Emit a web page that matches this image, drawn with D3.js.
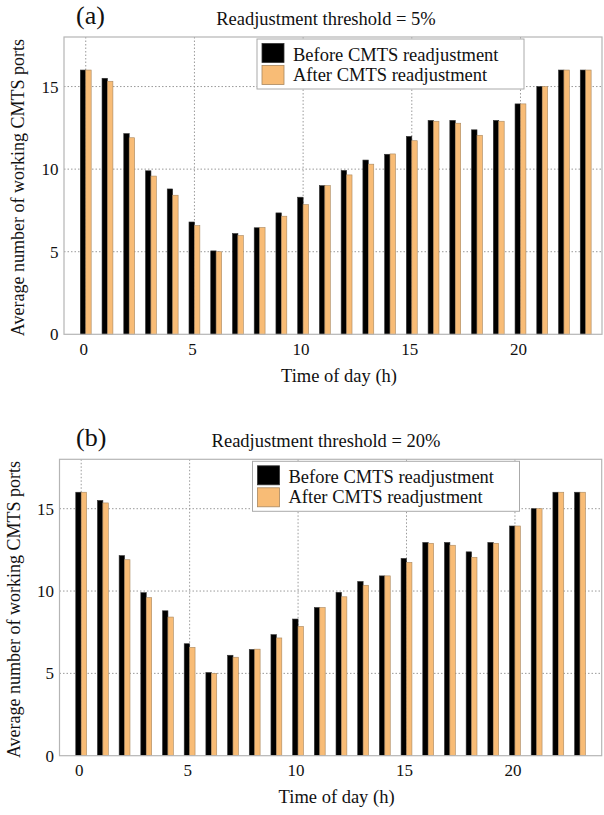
<!DOCTYPE html>
<html>
<head>
<meta charset="utf-8">
<script src="https://cdn.jsdelivr.net/npm/d3@7"></script>
<style>
  body { margin: 0; background: #fff; }
  text { font-family: "Liberation Serif", "Times New Roman", serif; fill: #111; }
</style>
</head>
<body>
<div id="chart"></div>
<script>
// hours of the day
var hours = d3.range(0, 24)

// panel (a), threshold 5%
var beforeA = [16, 15.5, 12.15, 9.9, 8.8, 6.8, 5.05, 6.1, 6.45, 7.35, 8.3, 9.0,
               9.92, 10.55, 10.9, 11.98, 12.95, 12.95, 12.38, 12.95, 13.95, 15, 16, 16]
var afterA  = [16, 15.32, 11.9, 9.58, 8.42, 6.58, 5.0, 5.98, 6.47, 7.15, 7.85, 9.0,
               9.65, 10.3, 10.92, 11.72, 12.9, 12.78, 12.05, 12.9, 13.95, 15, 16, 16]
// panel (b), threshold 20%
var beforeB = [16, 15.5, 12.15, 9.9, 8.8, 6.8, 5.05, 6.1, 6.45, 7.35, 8.3, 9.0,
               9.92, 10.58, 10.92, 11.98, 12.95, 12.95, 12.38, 12.95, 13.95, 15, 16, 16]
var afterB  = [16, 15.35, 11.9, 9.6, 8.42, 6.58, 5.0, 5.98, 6.47, 7.15, 7.85, 9.0,
               9.65, 10.35, 10.92, 11.74, 12.9, 12.78, 12.05, 12.9, 13.95, 15, 16, 16]

var xTicks = [0, 5, 10, 15, 20]
var yTicks = [0, 5, 10, 15]
var seriesNames = ["Before CMTS readjustment", "After CMTS readjustment"]
var colors = ["#000000", "#f8bc76"]

var svg = d3.select("#chart").append("svg")
  .attr("width", 604)
  .attr("height", 815)

function panel(opt)
{
  var g = svg.append("g")
  var x = d3.scaleLinear().domain(opt.xDomain).range([opt.left, opt.right])
  var y = d3.scaleLinear().domain([0, 18]).range([opt.bottom, opt.top])

  // grid lines
  g.selectAll(".vgrid")
    .data(xTicks)
    .enter()
    .append("line")
      .attr("x1", function(d){ return x(d) })
      .attr("x2", function(d){ return x(d) })
      .attr("y1", opt.top)
      .attr("y2", opt.bottom)
      .attr("stroke", "#9a9a9a")
      .attr("stroke-width", 1)
      .attr("stroke-dasharray", "1.5,2")
  g.selectAll(".hgrid")
    .data(yTicks.slice(1))
    .enter()
    .append("line")
      .attr("x1", opt.left)
      .attr("x2", opt.right)
      .attr("y1", function(d){ return y(d) })
      .attr("y2", function(d){ return y(d) })
      .attr("stroke", "#9a9a9a")
      .attr("stroke-width", 1)
      .attr("stroke-dasharray", "1.5,2")

  // bars
  var bw = 0.25
  g.selectAll(".before")
    .data(hours)
    .enter()
    .append("rect")
      .attr("x", function(d){ return x(d - bw) })
      .attr("width", x(bw) - x(0))
      .attr("y", function(d, i){ return y(opt.before[i]) })
      .attr("height", function(d, i){ return y(0) - y(opt.before[i]) })
      .attr("fill", colors[0])
      .attr("stroke", "#333")
      .attr("stroke-width", 0.6)
  g.selectAll(".after")
    .data(hours)
    .enter()
    .append("rect")
      .attr("x", function(d){ return x(d) })
      .attr("width", x(bw) - x(0))
      .attr("y", function(d, i){ return y(opt.after[i]) })
      .attr("height", function(d, i){ return y(0) - y(opt.after[i]) })
      .attr("fill", colors[1])
      .attr("stroke", "#a8875f")
      .attr("stroke-width", 0.6)

  // frame
  g.append("rect")
    .attr("x", opt.left)
    .attr("y", opt.top)
    .attr("width", opt.right - opt.left)
    .attr("height", opt.bottom - opt.top)
    .attr("fill", "none")
    .attr("stroke", "#b5b5b5")
    .attr("stroke-width", 1.2)

  // tick labels
  g.selectAll(".xt")
    .data(xTicks)
    .enter()
    .append("text")
      .attr("x", function(d){ return x(d) - 2 })
      .attr("y", opt.bottom + 20.5)
      .attr("text-anchor", "middle")
      .style("font-size", "17px")
      .text(function(d){ return d })
  g.selectAll(".yt")
    .data(yTicks)
    .enter()
    .append("text")
      .attr("x", opt.left - 5.5)
      .attr("y", function(d){ return y(d) })
      .attr("dy", "0.35em")
      .attr("text-anchor", "end")
      .style("font-size", "17px")
      .text(function(d){ return d })

  // axis titles
  g.append("text")
    .attr("x", (opt.left + opt.right) / 2 + 6)
    .attr("y", opt.bottom + 47.5)
    .attr("text-anchor", "middle")
    .style("font-size", "18.5px")
    .text("Time of day (h)")
  g.append("text")
    .attr("transform", "translate(" + (opt.left - 40) + "," + ((opt.top + opt.bottom) / 2 + 2) + ")rotate(-90)")
    .attr("text-anchor", "middle")
    .style("font-size", "18px")
    .text("Average number of working CMTS ports")

  // panel letter and title
  g.append("text")
    .attr("x", 76)
    .attr("y", opt.top - 13.5)
    .style("font-size", "26px")
    .text(opt.letter)
  g.append("text")
    .attr("x", 326)
    .attr("y", opt.top - 12.5)
    .attr("text-anchor", "middle")
    .style("font-size", "18.5px")
    .text(opt.title)

  // legend
  var lx = opt.left + 193, ly = opt.top + 2
  var leg = g.append("g").attr("transform", "translate(" + lx + "," + ly + ")")
  leg.append("rect")
    .attr("width", 267)
    .attr("height", 50)
    .attr("fill", "#fff")
    .attr("stroke", "#aaa")
    .attr("stroke-width", 1)
  leg.selectAll(".sw")
    .data(seriesNames)
    .enter()
    .append("rect")
      .attr("x", 5)
      .attr("y", function(d, i){ return 4.5 + i * 22 })
      .attr("width", 22)
      .attr("height", 19)
      .attr("fill", function(d, i){ return colors[i] })
      .attr("stroke", function(d, i){ return i == 0 ? "#333" : "#a8875f" })
      .attr("stroke-width", 0.8)
  leg.selectAll(".lt")
    .data(seriesNames)
    .enter()
    .append("text")
      .attr("x", 36)
      .attr("y", function(d, i){ return 21.5 + i * 20 })
      .style("font-size", "18.5px")
      .text(function(d){ return d })
}

panel({left: 64, right: 602, top: 37, bottom: 334.3, xDomain: [-1, 23.75],
       before: beforeA, after: afterA, letter: "(a)", title: "Readjustment threshold = 5%"})
panel({left: 59.5, right: 601.7, top: 459.3, bottom: 755.7, xDomain: [-1, 24],
       before: beforeB, after: afterB, letter: "(b)", title: "Readjustment threshold = 20%"})
</script>
</body>
</html>
